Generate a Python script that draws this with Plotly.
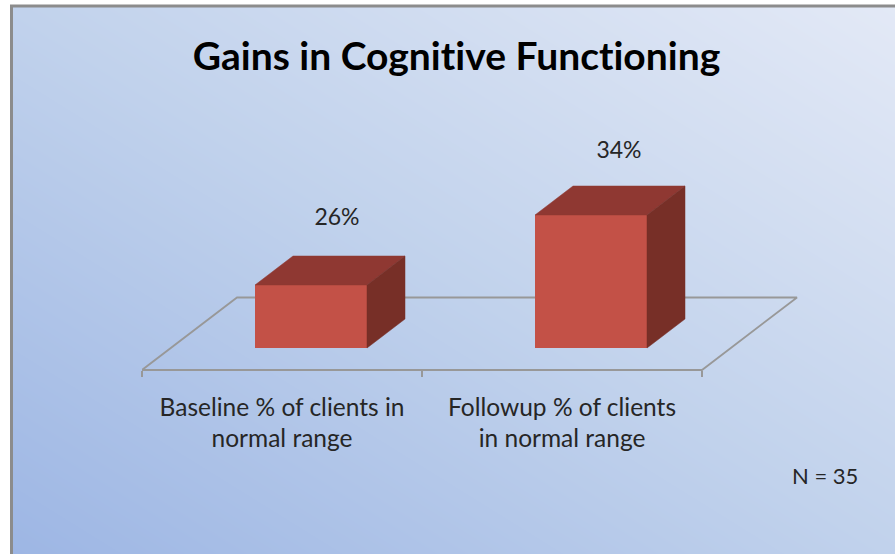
import plotly.graph_objects as go

title = "Gains in Cognitive Functioning"
categories = ["Baseline % of clients in<br>normal range", "Followup % of clients<br>in normal range"]
values = [26, 34]
value_labels = ["26%", "34%"]
note = "N = 35"

W, H = 895, 554
FONT = "Lato"
# plot box in pixels (floor front edge, extended right so the floor's far corner stays in range)
LEFT, RIGHT, BOTTOM = 142, 820, 370
FLOOR_PAD = 10
px_per_cat = 280
px_per_pct = 8.75
x_hi = -.5 + (RIGHT - LEFT) / px_per_cat
y_lo = 26 - (BOTTOM - 285) / px_per_pct
y_hi = y_lo + BOTTOM / px_per_pct
bar_base = y_lo + 22 / px_per_pct
bar_w = 112 / px_per_cat
bar_shift = 29 / px_per_cat
dx, dy = 38 / px_per_cat, 29 / px_per_pct
floor_dx, floor_dy = 95 / px_per_cat, 72.5 / px_per_pct
label_dx = [26 / px_per_cat, 28 / px_per_cat]
label_dy = [66 / px_per_pct, 63 / px_per_pct]

fig = go.Figure()

# background gradient
fig.add_trace(go.Heatmap(
    z=[[0, .5], [.5, 1]], x=[0, 1], y=[0, 1], zsmooth="best", showscale=False, hoverinfo="skip",
    zmin=0, zmax=1, xaxis="x", yaxis="y",
    colorscale=[[0, "#9DB6E4"], [.5, "#C1D2EC"], [1, "#E3E9F6"]]))

# floor
fig.add_trace(go.Scatter(
    x=[-.5, 1.5, 1.5 + floor_dx, -.5 + floor_dx, -.5],
    y=[y_lo, y_lo, y_lo + floor_dy, y_lo + floor_dy, y_lo],
    mode="lines", line=dict(color="#989898", width=1.8), cliponaxis=False,
    hoverinfo="skip", showlegend=False, xaxis="x2", yaxis="y2"))

# front faces
fig.add_trace(go.Bar(
    x=[0, 1], y=[v - bar_base for v in values], base=bar_base, width=bar_w,
    offset=bar_shift - bar_w / 2, marker=dict(color="#C35147", line=dict(width=0)),
    cliponaxis=False, showlegend=False, xaxis="x3", yaxis="y3"))

# top and side faces, labels
for i, v in enumerate(values):
    x0 = i + bar_shift - bar_w / 2
    x1 = x0 + bar_w
    fig.add_trace(go.Scatter(
        x=[x0, x1, x1 + dx, x0 + dx, x0], y=[v, v, v + dy, v + dy, v],
        mode="lines", fill="toself", fillcolor="#8F3832", line=dict(color="#8F3832", width=.5),
        cliponaxis=False, hoverinfo="skip", showlegend=False, xaxis="x3", yaxis="y3"))
    fig.add_trace(go.Scatter(
        x=[x1, x1 + dx, x1 + dx, x1, x1], y=[bar_base, bar_base + dy, v + dy, v, bar_base],
        mode="lines", fill="toself", fillcolor="#772F27", line=dict(color="#772F27", width=.5),
        cliponaxis=False, hoverinfo="skip", showlegend=False, xaxis="x3", yaxis="y3"))

fig.add_trace(go.Scatter(
    x=[i + bar_shift + label_dx[i] for i in range(2)], y=[v + label_dy[i] for i, v in enumerate(values)],
    text=value_labels, mode="text", textposition="middle center",
    textfont=dict(family=FONT, size=23, color="#262626"),
    cliponaxis=False, hoverinfo="skip", showlegend=False, xaxis="x3", yaxis="y3"))

dom_x = [LEFT / W, RIGHT / W]
dom_y = [(H - BOTTOM) / H, 1]
hidden = dict(visible=False, fixedrange=True)
fig.update_layout(
    width=W, height=H, autosize=False, margin=dict(l=0, r=0, t=0, b=0),
    paper_bgcolor="white", plot_bgcolor="rgba(0,0,0,0)", showlegend=False,
    xaxis=dict(domain=[12 / W, 1], range=[0, 1], **hidden),
    yaxis=dict(domain=[0, (H - 6) / H], range=[0, 1], **hidden),
    xaxis2=dict(domain=dom_x, range=[-.5, x_hi], anchor="free", position=dom_y[0],
                tickvals=[-.5, .5, 1.5], ticktext=["", "", ""],
                ticks="outside", ticklen=6, tickwidth=1.8, tickcolor="#989898",
                showline=False, showgrid=False, zeroline=False, fixedrange=True),
    yaxis2=dict(domain=[(H - BOTTOM - FLOOR_PAD) / H, 1], range=[y_lo - FLOOR_PAD / px_per_pct, y_hi],
                anchor="x2", **hidden),
    xaxis3=dict(domain=dom_x, range=[-.5, x_hi], anchor="y3", tickmode="array", tickvals=[0, 1],
                ticktext=categories, ticks="", ticklabelstandoff=20, tickangle=0,
                tickfont=dict(family=FONT, size=24.5, color="#262626"),
                showline=False, showgrid=False, zeroline=False, fixedrange=True),
    yaxis3=dict(domain=dom_y, range=[y_lo, y_hi], anchor="x3", **hidden),
    annotations=[
        dict(text=f"<b>{title}</b>", x=457 / W, y=1 - 55 / H, xref="paper", yref="paper", showarrow=False,
             xanchor="center", yanchor="middle", font=dict(family=FONT, size=39, color="#000000")),
        dict(text=note, x=825 / W, y=1 - 475 / H, xref="paper", yref="paper", showarrow=False,
             xanchor="center", yanchor="middle", font=dict(family=FONT, size=22, color="#262626")),
    ],
    shapes=[dict(type="rect", xref="paper", yref="paper", x0=11.5 / W, x1=1.05, y0=-.05, y1=1 - 6 / H,
                 line=dict(color="#8C8C8C", width=3), layer="above")],
    bargap=0,
)
fig.write_html("out.html", config={"displayModeBar": False}, post_script=(
    "document.body.style.margin='0';document.body.style.overflow='hidden';"
    "var s=document.createElement('style');"
    "s.textContent='text{font-variant-ligatures:none !important;font-feature-settings:\"liga\" 0 !important;}';"
    "document.head.appendChild(s);"))
